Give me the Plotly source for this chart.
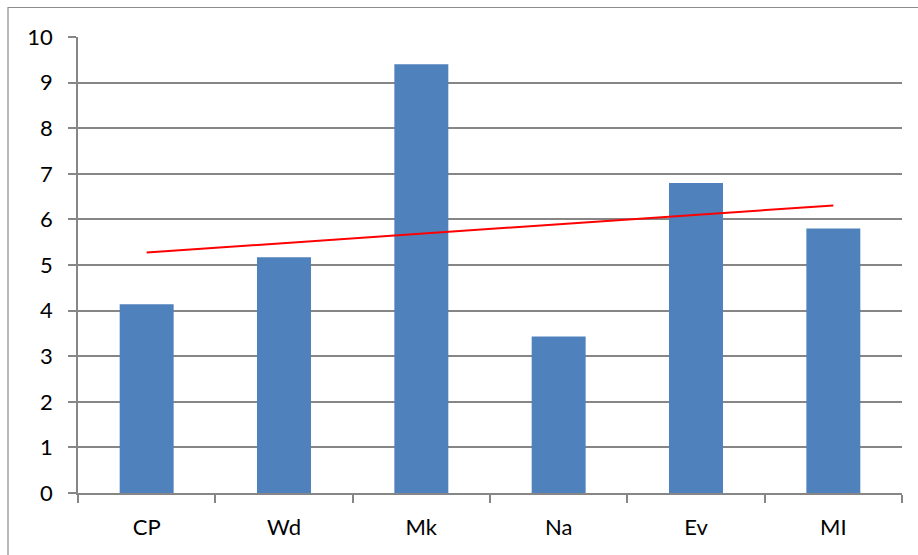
import numpy as np
import plotly.graph_objects as go

# Category labels and measured values
categories = ["CP", "Wd", "Mk", "Na", "Ev", "MI"]
values = [4.14, 5.17, 9.40, 3.43, 6.80, 5.80]

# Linear trend fitted to the bar values (least squares)
idx = np.arange(1, len(values) + 1)
slope, intercept = np.polyfit(idx, values, 1)
trend = slope * idx + intercept

GRID = "#868686"
FONT = dict(family="Lato, Carlito, Calibri, sans-serif", size=22, color="#000000")

fig = go.Figure()
fig.add_trace(go.Bar(
    x=categories, y=values,
    marker=dict(color="#4F81BD", line=dict(width=0)),
    showlegend=False,
))
fig.add_trace(go.Scatter(
    x=categories, y=trend, mode="lines",
    line=dict(color="#FF0000", width=2),
    showlegend=False,
))

W, H = 918, 555
L, R, T, B = 78, 16, 37, 62
pw, ph = W - L - R, H - T - B

# Chart-area border (left and top edges visible)
fig.add_shape(
    type="rect", xref="paper", yref="paper",
    x0=(8 - L) / pw, x1=(W + 20 - L) / pw,
    y0=-(B + 20) / ph, y1=(H - B - 7.5) / ph,
    line=dict(color="#8C8C8C", width=1.2), fillcolor="rgba(0,0,0,0)",
    layer="below",
)

fig.update_layout(
    width=W, height=H,
    margin=dict(l=L, r=R, t=T, b=B, pad=0),
    paper_bgcolor="white", plot_bgcolor="white",
    bargap=0.607,
    font=FONT,
    xaxis=dict(
        type="category", tickson="boundaries", ticks="outside", ticklen=8,
        tickcolor=GRID, tickwidth=1.5, showline=True, linecolor=GRID, linewidth=1.5,
        showgrid=False, ticklabelstandoff=14, tickfont=FONT,
    ),
    yaxis=dict(
        range=[0, 10], dtick=1, ticks="outside", ticklen=8, tickcolor=GRID, tickwidth=1.5,
        showline=True, linecolor=GRID, linewidth=1.5,
        showgrid=True, gridcolor=GRID, gridwidth=1.5, zeroline=False,
        ticklabelstandoff=11, tickfont=FONT,
    ),
)

fig.write_html("out.html")
